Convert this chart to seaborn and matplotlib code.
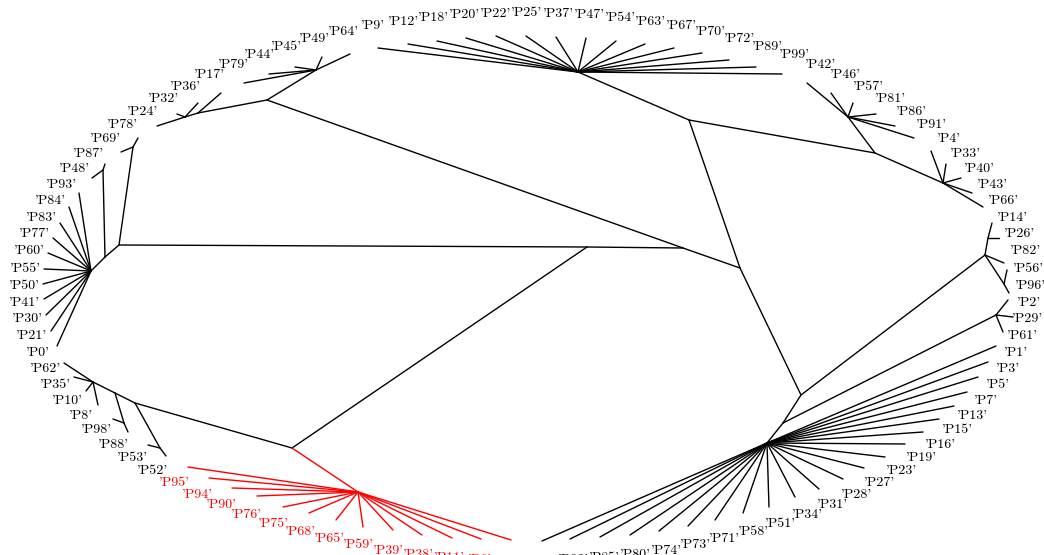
import matplotlib
matplotlib.use("Agg")
import matplotlib.pyplot as plt
import seaborn as sns
import numpy as np
import pandas as pd

# internal nodes of the unrooted tree (layout coordinates)
internal_nodes = ["A", "W", "B", "J", "C", "D", "E", "F1", "G", "H", "I", "K", "L1", "L2",
                  "N", "O", "Pn", "M", "T", "S", "R", "Q", "U", "V", "X", "Z2", "Z3",
                  "Y", "Y1", "Y2", "Z"]
internal_x = [119, 587, 683, 267, 740, 689, 801, 578, 875, 848, 943, 316, 198, 185,
              133, 105, 103, 91, 292, 135, 115, 93, 124, 160, 358, 783, 996,
              985, 988, 1004, 767]
internal_y = [245, 247, 248, 100, 268, 120, 395, 72, 153, 117, 183, 70, 113, 117,
              147, 257, 170, 271, 448, 403, 393, 382, 423, 448, 492, 423, 315,
              255, 238, 284, 443]
internal_edges = [("A", "W"), ("W", "B"), ("W", "T"), ("B", "J"), ("B", "C"), ("C", "D"),
                  ("C", "E"), ("D", "F1"), ("D", "G"), ("G", "H"), ("G", "I"), ("J", "K"),
                  ("J", "L1"), ("L1", "L2"), ("A", "N"), ("A", "O"), ("O", "Pn"), ("O", "M"),
                  ("T", "S"), ("S", "R"), ("R", "Q"), ("R", "U"), ("S", "V"), ("T", "X"),
                  ("E", "Y"), ("Y", "Y1"), ("Y", "Y2"), ("E", "Z2"), ("Z2", "Z3"), ("Z2", "Z")]

# leaves: name, parent node, tip position
leaf_names = ["P9", "P12", "P18", "P20", "P22", "P25", "P37", "P47", "P54", "P63", "P67", "P70",
              "P72", "P89", "P99",
              "P42", "P46", "P57", "P81", "P86", "P91",
              "P4", "P33", "P40", "P43", "P66",
              "P14", "P26", "P82", "P56", "P96",
              "P2", "P29", "P61",
              "P1", "P3", "P5", "P7", "P13", "P15", "P16", "P19", "P23", "P27", "P28", "P31",
              "P34", "P51", "P58", "P71", "P73", "P74", "P80", "P85", "P92", "P97",
              "P100", "P6", "P11", "P38", "P39", "P59", "P65", "P68", "P75", "P76", "P90",
              "P94", "P95",
              "P52", "P53", "P88", "P98", "P8", "P10", "P35", "P62",
              "P0", "P21", "P30", "P41", "P50", "P55", "P60", "P77", "P83", "P84", "P93",
              "P48", "P87", "P69", "P78",
              "P24", "P32", "P36", "P17",
              "P79", "P44", "P45", "P49", "P64"]
leaf_parent = (["F1"] * 15 + ["H"] * 6 + ["I"] * 5 + ["Y1", "Y1", "Y", "Y2", "Y2"]
               + ["Z3"] * 3 + ["Z"] * 22 + ["X"] * 13
               + ["V", "V", "U", "U", "Q", "Q", "Q", "Q"] + ["M"] * 11
               + ["Pn", "Pn", "N", "N"] + ["L2", "L2", "L2", "L1"] + ["K"] * 5)
leaf_x = [378, 408, 437, 466, 496, 526, 556, 586, 616, 645, 674, 702, 729, 756, 782,
          807, 831, 853, 876, 895, 914,
          931, 946, 961, 972, 983,
          992, 999, 1004, 1007, 1009,
          1008, 1013, 1003,
          996, 988, 978, 967, 954, 939, 923, 905, 885, 864, 843, 819,
          795, 769, 743, 715, 688, 659, 630, 600, 570, 542,
          511, 481, 452, 422, 393, 363, 336, 309, 283, 257, 232, 209, 188,
          166, 148, 128, 113, 98, 86, 74, 64,
          57, 51, 46, 44, 43, 44, 48, 53, 60, 69, 79,
          92, 105, 121, 138,
          157, 177, 198, 221,
          244, 269, 295, 322, 350]
leaf_y = [48, 44, 41, 38, 36, 36, 37, 38, 41, 44, 48, 53, 60, 67, 74,
          83, 93, 103, 114, 126, 138,
          151, 164, 178, 193, 207,
          223, 238, 263, 270, 293,
          300, 317, 332,
          346, 362, 377, 392, 406, 419, 432, 444, 457, 468, 479, 489,
          497, 507, 513, 520, 526, 531, 535, 537, 539, 541,
          540, 539, 538, 535, 530, 527, 520, 513, 507, 496, 488, 478, 467,
          456, 445, 432, 419, 405, 391, 377, 363,
          346, 331, 315, 299, 284, 269, 253, 238, 223, 207, 193,
          178, 164, 152, 138,
          126, 114, 103, 93,
          83, 74, 67, 57, 54]

red_clade = ["X", "P100", "P6", "P11", "P38", "P39", "P59", "P65", "P68", "P75", "P76",
             "P90", "P94", "P95"]

pos = {n: (x, y) for n, x, y in zip(internal_nodes + leaf_names,
                                    internal_x + leaf_x, internal_y + leaf_y)}
edges = internal_edges + list(zip(leaf_parent, leaf_names))

rows = []
for i, (p, c) in enumerate(edges):
    clade = "red" if c in red_clade else "black"
    for n in (p, c):
        rows.append({"x": pos[n][0], "y": pos[n][1], "edge": i, "clade": clade})
df = pd.DataFrame(rows)

sns.set_style("white")
plt.rcParams["font.family"] = ["cmr10", "DejaVu Serif"]
plt.rcParams["axes.formatter.use_mathtext"] = True

fig = plt.figure(figsize=(10.44, 5.55), dpi=100)
ax = fig.add_axes([0, 0, 1, 1])
sns.lineplot(data=df, x="x", y="y", units="edge", estimator=None, sort=False,
             hue="clade", palette={"black": "black", "red": "red"},
             linewidth=1.0, legend=False, ax=ax)

# labels evenly spread around an ellipse, clockwise from the top
cx, cy, a = 527, 290, 503
b_up, b_down = 277, 271
n = len(leaf_names)
start = leaf_names.index("P25")
for k, name in enumerate(leaf_names):
    t = np.pi / 2 - (k - start) * 2 * np.pi / n
    b = b_up if np.sin(t) > 0 else b_down
    ax.text(cx + a * np.cos(t), cy - b * np.sin(t), f"'{name}'",
            ha="center", va="center", fontsize=10,
            color="red" if name in red_clade else "black")

ax.set_xlim(0, 1044)
ax.set_ylim(555, 0)
ax.axis("off")
fig.savefig("out.png", dpi=100)
